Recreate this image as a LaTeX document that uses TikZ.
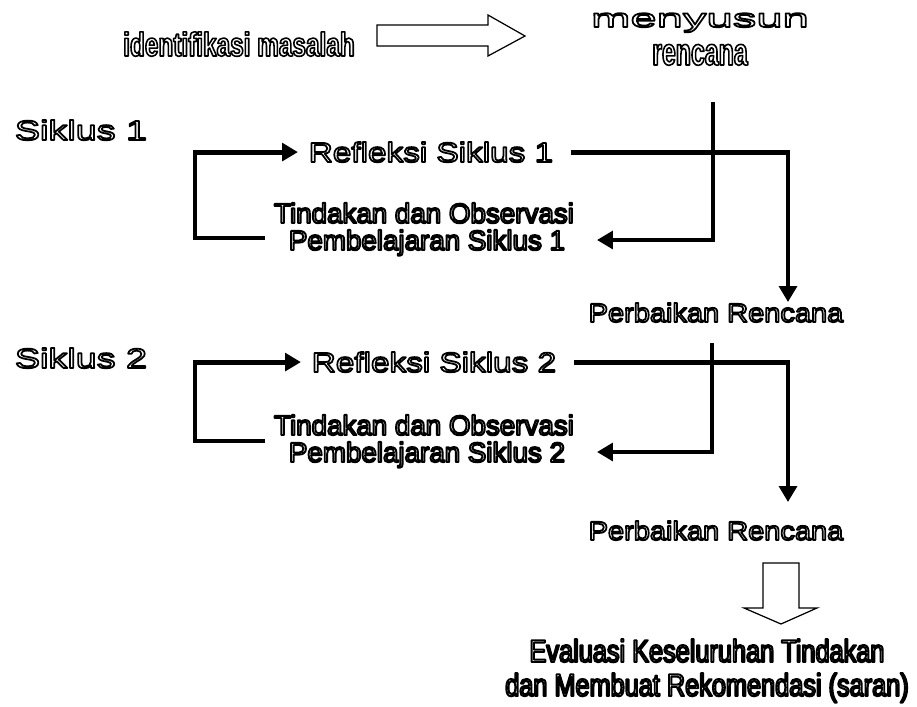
\documentclass[tikz,border=0pt]{standalone}
\usepackage{fontspec}
\setmainfont{Liberation Sans}
\newfontfamily\sikface{Liberation Sans}[FakeStretch=1.36]
\newfontfamily\refface{Liberation Sans}[FakeStretch=1.2]
\newfontfamily\perface{Liberation Sans}[FakeStretch=1.1]
\newfontfamily\menface{Liberation Sans}[FakeStretch=1.84]
\newfontfamily\narrowface{Liberation Sans}[FakeStretch=0.8]
\newfontfamily\slimface{Liberation Sans}[FakeStretch=0.65]
\newfontfamily\idmface{Liberation Sans}[FakeStretch=0.73]
\usetikzlibrary{arrows.meta}
% outlined (hollow) letters
\newcommand{\hollow}[2]{\special{pdf:literal direct 1 Tr 1 j #1 w}#2\special{pdf:literal direct 0 Tr 0 j 0.4 w}}

\begin{document}
\begin{tikzpicture}[
    x=0.02cm, y=-0.02cm,
    lbl/.style={inner sep=0pt, anchor=base},
    reflbl/.style={lbl, inner xsep=6pt, font=\refface\fontsize{15.8}{18}\selectfont},
    tinlbl/.style={lbl, font=\fontsize{15.8}{18}\selectfont},
    perlbl/.style={lbl, font=\perface\fontsize{15}{17}\selectfont},
    siklbl/.style={lbl, font=\sikface\fontsize{15.8}{18}\selectfont},
    evalbl/.style={lbl, font=\narrowface\fontsize{18}{21}\selectfont},
    flow/.style={line width=2.8pt, line join=miter, -{Triangle[length=9pt,width=10pt]}},
    fatarrow/.style={draw, fill=white, line width=0.7pt, line join=miter}
]
    \useasboundingbox (0,0) rectangle (917,707);

    % top row
    \node[lbl, font=\idmface\bfseries\fontsize{19}{22}\selectfont] (idm) at (239,56) {\hollow{0.9}{identifikasi masalah}};
    \node[lbl, font=\menface\fontsize{14.6}{16}\selectfont] (men) at (700,27) {\hollow{1.0}{menyusun}};
    \node[lbl, font=\slimface\bfseries\fontsize{21.8}{24}\selectfont] (ren) at (700,65) {\hollow{0.9}{rencana}};
    \draw[fatarrow] (377,25) -- (488,25) -- (488,15) -- (525,36) -- (488,56) -- (488,46) -- (377,46) -- cycle;

    % siklus 1
    \node[siklbl] (sik1) at (81,140) {\hollow{1.0}{Siklus 1}};
    \node[reflbl] (ref1) at (431,162) {\hollow{1.0}{Refleksi Siklus 1}};
    \node[tinlbl] (tin1) at (424,223) {\hollow{1.1}{Tindakan dan Observasi}};
    \node[tinlbl] (pem1) at (427,250) {\hollow{1.1}{Pembelajaran Siklus 1}};
    \node[perlbl] (per1) at (716,322) {\hollow{1.0}{Perbaikan Rencana}};
    \coordinate (k1) at (265,238);
    \coordinate (t1) at (788,302);
    \coordinate (v1) at (713,102);
    \coordinate (a1) at (597,240);
    \draw[flow] (k1) -- ++(-70,0) |- (ref1.west);
    \draw[flow] ([xshift=4pt]ref1.east) -| (t1);
    \draw[flow] (v1) |- (a1);

    % siklus 2
    \node[siklbl] (sik2) at (81,368) {\hollow{1.0}{Siklus 2}};
    \node[reflbl] (ref2) at (434,372) {\hollow{1.0}{Refleksi Siklus 2}};
    \node[tinlbl] (tin2) at (424,435) {\hollow{1.1}{Tindakan dan Observasi}};
    \node[tinlbl] (pem2) at (427,462) {\hollow{1.1}{Pembelajaran Siklus 2}};
    \node[perlbl] (per2) at (716,540) {\hollow{1.0}{Perbaikan Rencana}};
    \coordinate (k2) at (265,441);
    \coordinate (t2) at (788,502);
    \coordinate (v2) at (712,343);
    \coordinate (a2) at (597,452);
    \draw[flow] (k2) -- ++(-70,0) |- (ref2.west);
    \draw[flow] ([xshift=4pt]ref2.east) -| (t2);
    \draw[flow] (v2) |- (a2);

    % evaluasi
    \draw[fatarrow] (763,563) -- (799,563) -- (799,608) -- (817,608) -- (781,624) -- (744,608) -- (763,608) -- cycle;
    \node[evalbl] (eva1) at (707,662) {\hollow{1.1}{Evaluasi Keseluruhan Tindakan}};
    \node[evalbl] (eva2) at (707,696) {\hollow{1.1}{dan Membuat Rekomendasi (saran)}};
\end{tikzpicture}
\end{document}
